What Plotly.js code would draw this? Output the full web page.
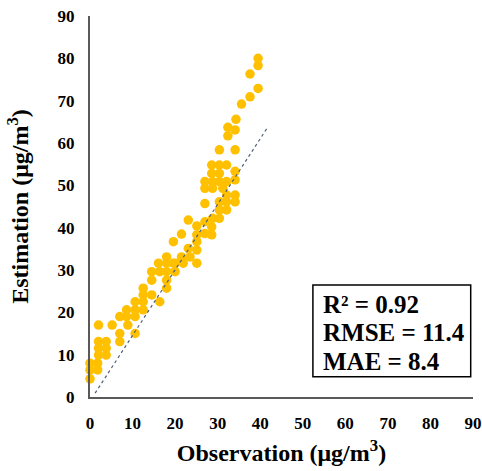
<!DOCTYPE html>
<html>
<head>
<meta charset="utf-8">
<script src="https://cdn.plot.ly/plotly-3.0.1.min.js"></script>
<style>html,body{margin:0;padding:0;background:#fff;}</style>
</head>
<body>
<div id="chart" style="width:482px;height:471px;"></div>
<script>
// Observation (x) and Estimation (y), µg/m³
const observation = [
  0, 0, 0, 1.8, 1.8,
  2, 2, 2, 2,
  3.8, 3.8, 3.8,
  5.2,
  7, 7, 7,
  8.6, 8.9, 8.6,
  10.6, 10.6, 10.6, 10.6,
  12.5, 12.5, 12.5, 12.5,
  14.5, 14.5, 14.5,
  16.4, 16.4, 16.1,
  18, 18, 18, 18, 18,
  19.6, 20, 19.6,
  21.5, 21.5, 21.9, 20,
  23.1, 23.5, 23.1,
  25.1, 25.1, 25.1, 25.1, 25.1,
  27, 27, 27, 27, 27,
  28.6, 28.8, 28.8, 28.8, 28.6, 28.6, 28.6,
  30.4, 30.4, 30.4, 30.4, 30.4, 30.4, 30.4,
  31.2,
  32.1, 32.1, 32.1, 32.1, 32.1,
  32.4, 32.4,
  34.1, 34.1, 34.1, 34.1, 34.1, 34.1, 34.3,
  35.6, 37.6, 37.6, 39.5, 39.5, 39.5
];
const estimation = [
  4.3, 6.4, 8.0, 6.4, 8.0,
  9.9, 11.5, 13.1, 17.0,
  9.9, 11.5, 13.1,
  17.0,
  13.1, 15.0, 19.0,
  19.0, 17.0, 20.6,
  15.0, 19.0, 20.6, 22.5,
  20.6, 22.5, 24.1, 25.7,
  24.1, 27.6, 29.6,
  22.5, 29.6, 31.6,
  25.7, 27.6, 29.6, 31.6, 33.1,
  31.6, 29.6, 36.7,
  33.1, 38.5, 31.6, 31.6,
  35.1, 33.1, 41.8,
  31.6, 34.7, 36.7, 38.3, 40.4,
  38.6, 41.4, 45.7, 49.3, 50.9,
  38.3, 42.2, 49.3, 50.9, 52.8, 54.8, 40.2,
  42.2, 44.2, 46.1, 50.9, 52.8, 54.8, 58.4,
  49.3,
  44.2, 46.1, 47.7, 50.9, 54.8,
  61.7, 63.7,
  46.1, 47.7, 51.3, 53.3, 58.4, 63.1, 65.6,
  69.2, 70.9, 76.3, 72.9, 78.3, 80.0
];
// Fitted line end points
const fitX = [1.2, 41.8];
const fitY = [0.9, 63.8];
const tickVals = [0, 10, 20, 30, 40, 50, 60, 70, 80, 90];
const statsLines = ["R² = 0.92", "RMSE = 11.4", "MAE = 8.4"];

const serif = '"Times New Roman", "Liberation Serif", serif';

const traces = [
  {
    x: observation, y: estimation, type: 'scatter', mode: 'markers',
    marker: {color: '#FFC000', size: 9.5, line: {width: 0}},
    cliponaxis: false, hoverinfo: 'x+y', showlegend: false
  },
  {
    x: fitX, y: fitY, type: 'scatter', mode: 'lines',
    line: {color: '#4F6078', width: 1.2, dash: 'dot'},
    cliponaxis: false, showlegend: false
  }
];

function axis(titleText, standoff) {
  return {
    range: [0, 90], tickvals: tickVals, ticktext: tickVals.map(v => '<b>' + v + '</b>'),
    showgrid: false, zeroline: false, showline: true,
    linecolor: '#595959', linewidth: 2,
    ticks: 'outside', ticklen: 10, tickcolor: 'rgba(0,0,0,0)',
    tickfont: {family: serif, size: 17, color: '#000'},
    title: {text: '<b>' + titleText + '</b>', font: {family: serif, size: 24, color: '#000'}, standoff: standoff}
  };
}

const layout = {
  width: 482, height: 471,
  margin: {l: 90, r: 9, t: 16, b: 74},
  paper_bgcolor: '#fff', plot_bgcolor: '#fff',
  showlegend: false,
  xaxis: axis('Observation (μg/m<sup>3</sup>)', 12),
  yaxis: axis('Estimation (μg/m<sup>3</sup>)', 22),
  shapes: [{
    type: 'rect', xref: 'paper', yref: 'paper',
    x0: 0.582, x1: 0.994, y0: 0.053, y1: 0.294,
    line: {color: '#000', width: 1.5}, fillcolor: '#fff', layer: 'above'
  }],
  annotations: statsLines.map((t, i) => ({
    text: '<b>' + t + '</b>', xref: 'paper', yref: 'paper',
    x: 0.603, y: [0.244, 0.168, 0.093][i],
    xanchor: 'left', yanchor: 'middle', showarrow: false,
    font: {family: serif, size: 25, color: '#000'}
  }))
};

Plotly.newPlot('chart', traces, layout, {displayModeBar: false, staticPlot: true});
</script>
</body>
</html>
